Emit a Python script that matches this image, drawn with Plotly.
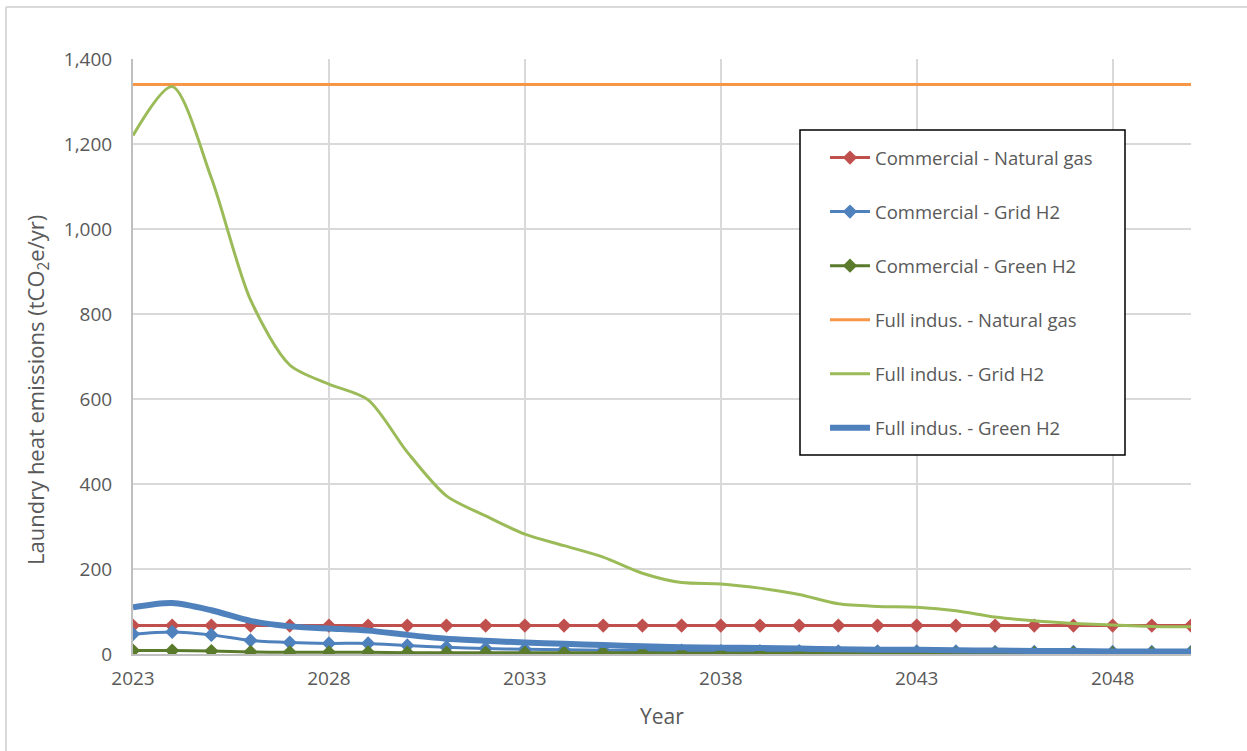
import plotly.graph_objects as go

years = list(range(2023, 2051))

commercial_natural_gas = [67] * 28
commercial_grid_h2 = [47, 52, 45, 32, 27, 25, 25, 20, 16, 13, 11, 10, 9, 8, 8, 7, 7, 7, 6, 6, 6, 6, 5, 5, 5, 5, 5, 5]
commercial_green_h2 = [8, 8, 7, 5, 4, 4, 4, 3, 3, 3, 3, 3, 3, 3, 2, 2, 2, 2, 2, 2, 2, 2, 2, 2, 2, 2, 2, 2]
full_natural_gas = [1340] * 28
full_grid_h2 = [1220, 1335, 1120, 833, 680, 635, 598, 475, 372, 325, 282, 255, 228, 190, 168, 165, 155, 140,
                118, 112, 110, 102, 87, 78, 72, 68, 65, 64]
full_green_h2 = [110, 120, 103, 78, 65, 60, 55, 45, 36, 31, 27, 24, 21, 18, 16, 15, 14, 13, 11, 10, 10, 9, 8,
                 7, 7, 6, 6, 6]

x_ticks = [2023, 2028, 2033, 2038, 2043, 2048]
y_ticks = [0, 200, 400, 600, 800, 1000, 1200, 1400]

FONT = "Open Sans"
TEXT_GRAY = "#595959"

series = [
    ("Commercial - Natural gas", commercial_natural_gas, "#C0504D", 3, True),
    ("Commercial - Grid H2", commercial_grid_h2, "#4F81BD", 3, True),
    ("Commercial - Green H2", commercial_green_h2, "#5A7A2C", 3, True),
    ("Full indus. - Natural gas", full_natural_gas, "#F79646", 3, False),
    ("Full indus. - Grid H2", full_grid_h2, "#9BBB59", 3, False),
    ("Full indus. - Green H2", full_green_h2, "#4F81BD", 6, False),
]

fig = go.Figure()
for i, (name, vals, color, width, markers) in enumerate(series):
    fig.add_trace(go.Scatter(
        x=years, y=vals, name=name,
        mode="lines+markers" if markers else "lines",
        line=dict(color=color, width=width, shape="spline", smoothing=0.8),
        marker=dict(symbol="diamond", size=11, color=color),
        legendgroup=f"g{i}",
    ))

W, H = 1247, 751
L, R, T, B = 133, 56, 59, 97
pw, ph = W - L - R, H - T - B


def px_x(px):
    return (px - L) / pw


def px_y(py):
    return (H - B - py) / ph


shapes = [
    # outer frame (top and left edges)
    dict(type="line", xref="paper", yref="paper", x0=px_x(6), x1=px_x(1247), y0=px_y(7), y1=px_y(7),
         line=dict(color="#d9d9d9", width=2)),
    dict(type="line", xref="paper", yref="paper", x0=px_x(6), x1=px_x(6), y0=px_y(7), y1=px_y(751),
         line=dict(color="#d9d9d9", width=2)),
    # legend box
    dict(type="rect", xref="paper", yref="paper", x0=px_x(800), x1=px_x(1125), y0=px_y(130), y1=px_y(455),
         line=dict(color="black", width=1.5), fillcolor="white", layer="above"),
]

annotations = [
    dict(text="Laundry heat emissions (tCO<sub>2</sub>e/yr)", textangle=-90,
         xref="paper", yref="paper", x=px_x(37), y=px_y(390), xanchor="center", yanchor="middle",
         showarrow=False, font=dict(family=FONT, size=22, color=TEXT_GRAY)),
    dict(text="Year", xref="paper", yref="paper", x=px_x(662), y=px_y(716),
         xanchor="center", yanchor="middle", showarrow=False,
         font=dict(family=FONT, size=21, color=TEXT_GRAY)),
]

fig.update_layout(
    width=W, height=H,
    margin=dict(l=L, r=R, t=T, b=B),
    paper_bgcolor="white", plot_bgcolor="white",
    font=dict(family=FONT, color=TEXT_GRAY, size=19),
    shapes=shapes,
    annotations=annotations,
    legend=dict(
        x=px_x(825), y=px_y(139), xanchor="left", yanchor="top",
        bgcolor="rgba(0,0,0,0)", borderwidth=0,
        font=dict(family=FONT, size=18.5, color=TEXT_GRAY),
        traceorder="grouped", tracegroupgap=27,
        itemwidth=40,
    ),
    xaxis=dict(
        range=[2023, 2050], tickvals=x_ticks, ticktext=[str(v) for v in x_ticks],
        showgrid=True, gridcolor="#d9d9d9", gridwidth=1.5,
        showline=True, linecolor="#bfbfbf", linewidth=2,
        zeroline=False, ticks="", ticklen=0, ticklabelstandoff=6,
        tickfont=dict(size=19, color=TEXT_GRAY),
    ),
    yaxis=dict(
        range=[0, 1400], tickvals=y_ticks, tickformat=",",
        showgrid=True, gridcolor="#d9d9d9", gridwidth=1.5,
        showline=True, linecolor="#bfbfbf", linewidth=2,
        zeroline=False, ticks="", ticklen=0, ticklabelstandoff=15,
        tickfont=dict(size=19, color=TEXT_GRAY),
    ),
)

fig.write_html("out.html")
